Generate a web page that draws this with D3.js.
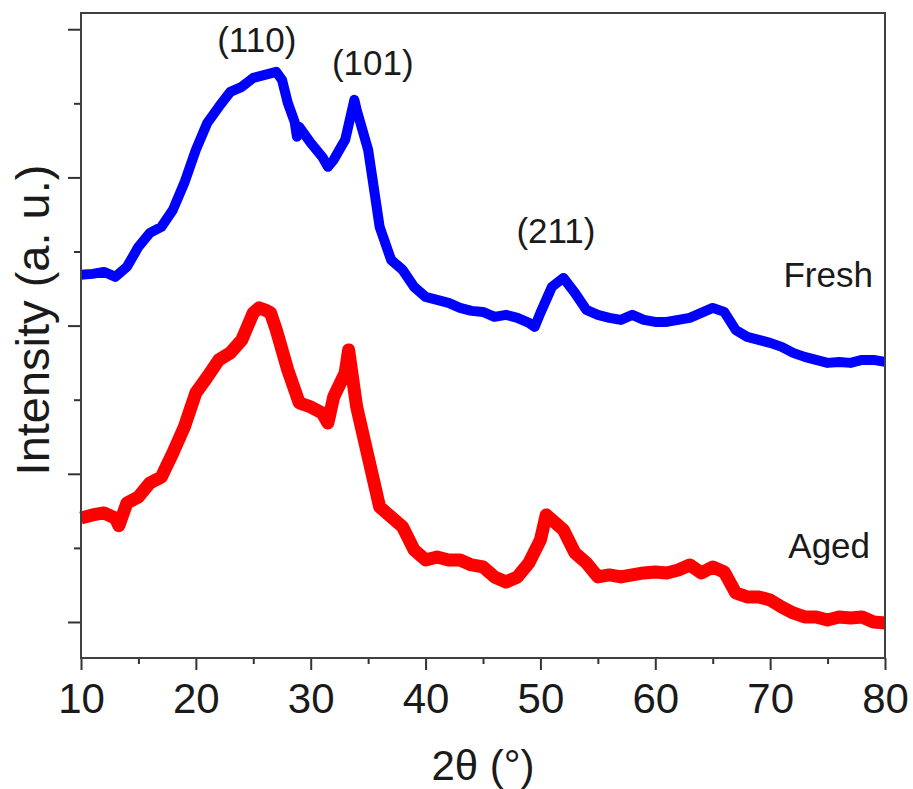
<!DOCTYPE html>
<html>
<head>
<meta charset="utf-8">
<script src="https://cdn.jsdelivr.net/npm/d3@7"></script>
<style>
  body { margin: 0; background: #fff; }
  svg text { font-family: "Liberation Sans", Arial, sans-serif; fill: #1a1a1a; }
</style>
</head>
<body>
<div id="chart"></div>
<script>
// 2theta positions (deg) and intensities (a.u.)
var freshX = [10, 11, 12, 13, 14, 15, 16, 17, 18, 19, 20, 21, 22, 23, 24, 25, 26, 27, 27.5, 28, 28.6, 28.8, 29, 30, 31, 31.5, 32, 33, 33.8, 34, 35, 36, 37, 38, 39, 40,
  41, 42, 43, 44, 45, 46, 47, 48, 49, 49.5, 50, 51, 52, 53, 54, 55, 56, 57, 58, 59, 60, 61, 62, 63, 64, 65, 66, 67, 68, 69, 70,
  71, 72, 73, 74, 75, 76, 77, 78, 79, 80];
var freshY = [4685, 4698, 4725, 4658, 4793, 5063, 5252, 5333, 5562, 5927, 6372, 6737, 6953, 7155, 7223, 7344, 7385, 7425, 7317, 7007, 6750, 6550, 6683, 6467, 6278, 6143, 6237, 6507, 7047, 6912, 6372, 5333, 4887, 4752, 4523, 4388,
  4347, 4307, 4239, 4199, 4185, 4118, 4145, 4104, 4037, 3983, 4172, 4523, 4644, 4442, 4212, 4145, 4104, 4077, 4145, 4077, 4050, 4050, 4077, 4104, 4172, 4239, 4185, 3942, 3848, 3807, 3767,
  3713, 3632, 3578, 3537, 3497, 3510, 3497, 3537, 3537, 3510];

var agedX = [10, 11, 12, 13, 13.3, 14, 15, 16, 17, 18, 19, 20, 21, 22, 23, 24, 25, 25.5, 26, 26.5, 27, 28, 29, 30, 31, 31.5, 32, 33, 33.3, 34, 35, 36, 37, 38, 39, 40,
  41, 42, 43, 44, 45, 46, 47, 48, 49, 50, 50.5, 51, 52, 53, 54, 55, 56, 57, 58, 59, 60, 61, 62, 63, 64, 65, 66, 67, 68, 69, 70,
  71, 72, 73, 74, 75, 76, 77, 78, 79, 80];
var agedY = [1404, 1445, 1472, 1400, 1300, 1607, 1688, 1877, 1958, 2282, 2633, 3092, 3308, 3537, 3632, 3807, 4172, 4239, 4212, 4172, 3942, 3402, 2957, 2903, 2822, 2687, 3038, 3362, 3672, 2903, 2228, 1553, 1418, 1283, 972, 837,
  878, 837, 837, 770, 743, 608, 540, 608, 797, 1107, 1445, 1377, 1242, 932, 797, 608, 635, 608, 635, 662, 675, 662, 702, 770, 662, 743, 675, 392, 338, 338, 297,
  203, 122, 68, 68, 27, 68, 54, 68, 0, -14];

var peakLabels = ["(110)", "(101)", "(211)"];
var peakX = [25.3, 35.4, 51.35];
var peakY = [7695, 7385, 5117];

var seriesNames = ["Fresh", "Aged"];
var seriesLabelX = [78.95, 78.7];
var seriesLabelY = [4523, 864];

var xTicks = [10, 20, 30, 40, 50, 60, 70, 80];
var xMinor = [15, 25, 35, 45, 55, 65, 75];
var yMajor = [0, 2000, 4000, 6000, 8000];
var yMinor = [1000, 3000, 5000, 7000];

var svg = d3.select('#chart').append('svg').attr("width", 913).attr("height", 789);

// plot box
var plotLeft = 81, plotRight = 885, plotTop = 13, plotBottom = 658;

var x_scale = d3.scaleLinear().domain([10, 80]).range([plotLeft, plotRight]);
var y_scale = d3.scaleLinear().domain([-486, 8219]).range([plotBottom, plotTop]);

// curves
var line = d3.line()
    .x(function (d) { return x_scale(d[0]); })
    .y(function (d) { return y_scale(d[1]); });

var fresh = freshX.map(function (v, i) { return [v, freshY[i]]; });
var aged = agedX.map(function (v, i) { return [v, agedY[i]]; });

svg.append("path").datum(aged)
    .attr("d", line)
    .attr("fill", "none")
    .attr("stroke", "#ff0000")
    .attr("stroke-width", 13)
    .attr("stroke-linejoin", "round");

svg.append("path").datum(fresh)
    .attr("d", line)
    .attr("fill", "none")
    .attr("stroke", "#0000ff")
    .attr("stroke-width", 10)
    .attr("stroke-linejoin", "round");

// axes
var x_axis = d3.axisBottom(x_scale).tickValues(xTicks).tickSize(12).tickPadding(13).tickFormat(d3.format("d"));
var x_minor = d3.axisBottom(x_scale).tickValues(xMinor).tickSize(6).tickFormat("");
var y_axis = d3.axisLeft(y_scale).tickValues(yMajor).tickSize(13).tickFormat("");
var y_minor = d3.axisLeft(y_scale).tickValues(yMinor).tickSize(7).tickFormat("");

var gx = svg.append("g").attr("transform", "translate(0," + plotBottom + ")").call(x_axis);
svg.append("g").attr("transform", "translate(0," + plotBottom + ")").call(x_minor);
svg.append("g").attr("transform", "translate(" + plotLeft + ",0)").call(y_axis);
svg.append("g").attr("transform", "translate(" + plotLeft + ",0)").call(y_minor);

svg.selectAll(".domain").remove();
svg.selectAll(".tick line").attr("stroke", "#333").attr("stroke-width", 2);
gx.selectAll("text").attr("font-size", 42).attr("fill", "#111").style("font-family", "'Liberation Sans', Arial, sans-serif");

// frame
svg.append("rect")
    .attr("x", plotLeft).attr("y", plotTop)
    .attr("width", plotRight - plotLeft).attr("height", plotBottom - plotTop)
    .attr("fill", "none").attr("stroke", "#404040").attr("stroke-width", 2);

// peak + series labels
svg.selectAll(".peak").data(peakLabels).enter().append("text")
    .attr("class", "peak")
    .attr("x", function (d, i) { return x_scale(peakX[i]); })
    .attr("y", function (d, i) { return y_scale(peakY[i]); })
    .attr("text-anchor", "middle")
    .attr("font-size", 35)
    .text(function (d) { return d; });

svg.selectAll(".series").data(seriesNames).enter().append("text")
    .attr("class", "series")
    .attr("x", function (d, i) { return x_scale(seriesLabelX[i]); })
    .attr("y", function (d, i) { return y_scale(seriesLabelY[i]); })
    .attr("text-anchor", "end")
    .attr("font-size", 35)
    .text(function (d) { return d; });

// axis titles
svg.append("text")
    .attr("text-anchor", "middle")
    .attr("x", (plotLeft + plotRight) / 2)
    .attr("y", 780)
    .attr("font-size", 42)
    .text("2θ (°)");

svg.append("text")
    .attr("text-anchor", "middle")
    .attr("transform", "translate(49,320) rotate(-90)")
    .attr("font-size", 47)
    .text("Intensity (a. u.)");
</script>
</body>
</html>
